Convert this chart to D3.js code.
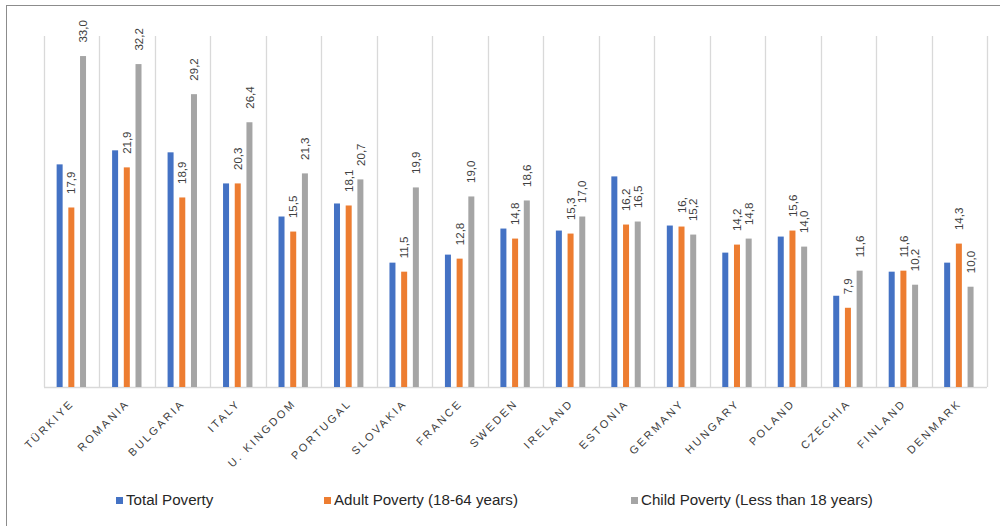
<!DOCTYPE html>
<html>
<head>
<meta charset="utf-8">
<script src="https://cdn.jsdelivr.net/npm/d3@7"></script>
<style>
  html, body { margin: 0; padding: 0; background: #ffffff; }
  svg { display: block; }
</style>
</head>
<body>
<script>
const categories = ["TÜRKIYE","ROMANIA","BULGARIA","ITALY","U. KINGDOM","PORTUGAL","SLOVAKIA","FRANCE","SWEDEN","IRELAND","ESTONIA","GERMANY","HUNGARY","POLAND","CZECHIA","FINLAND","DENMARK"];
const totalPoverty = [22.2,23.6,23.4,20.3,17.0,18.3,12.4,13.2,15.8,15.6,21.0,16.1,13.4,15.0,9.1,11.5,12.4];
const adultPoverty = [17.9,21.9,18.9,20.3,15.5,18.1,11.5,12.8,14.8,15.3,16.2,16.0,14.2,15.6,7.9,11.6,14.3];
const childPoverty = [33.0,32.2,29.2,26.4,21.3,20.7,19.9,19.0,18.6,17.0,16.5,15.2,14.8,14.0,11.6,10.2,10.0];
const seriesNames = ["Total Poverty","Adult Poverty (18-64 years)","Child Poverty (Less than 18 years)"];
const seriesColors = ["#4472C4","#ED7D31","#A5A5A5"];
const labelledSeries = [false, true, true];
// label text shown truncated in the source chart
const labelOverrides = { "GERMANY|1": "16," };

const W = 1000, H = 526;
const svg = d3.select("body").append("svg").attr("width", W).attr("height", H);

// outer frame (right/bottom edges lie outside the picture)
svg.append("rect").attr("x", 6.5).attr("y", 5.5).attr("width", 1000).attr("height", 600)
  .attr("fill", "none").attr("stroke", "#8c8c8c").attr("stroke-width", 1);

const x = d3.scaleBand().domain(categories).range([44, 987]).padding(0);
const y = d3.scaleLinear().domain([0, 35]).range([387, 36]);

const series = [totalPoverty, adultPoverty, childPoverty];
const barW = 6, pitch = 11.7;
const offsetFor = i => x.bandwidth() / 2 - 0.4 + (i - 1) * pitch - barW / 2;

// vertical category grid lines
const bounds = categories.map(c => x(c)).concat([x.range()[1]]);
svg.append("g").selectAll("line").data(bounds).join("line")
  .attr("x1", d => Math.round(d) + 0.5).attr("x2", d => Math.round(d) + 0.5)
  .attr("y1", y(35)).attr("y2", y(0))
  .attr("stroke", "#d9d9d9").attr("stroke-width", 1.3);

// baseline
svg.append("line").attr("x1", x.range()[0]).attr("x2", x.range()[1])
  .attr("y1", y(0) + 0.5).attr("y2", y(0) + 0.5)
  .attr("stroke", "#d9d9d9").attr("stroke-width", 1.5);

const fmt = v => d3.format(".1f")(v).replace(".", ",");

series.forEach((vals, si) => {
  const g = svg.append("g");
  g.selectAll("rect").data(vals).join("rect")
    .attr("x", (d, i) => x(categories[i]) + offsetFor(si))
    .attr("y", d => y(d))
    .attr("width", barW)
    .attr("height", d => y(0) - y(d))
    .attr("fill", seriesColors[si]);
  if (labelledSeries[si]) {
    g.selectAll("text").data(vals).join("text")
      .attr("transform", (d, i) => {
        const cx = x(categories[i]) + offsetFor(si) + barW / 2;
        return `translate(${cx},${y(d) - 13.5}) rotate(-90)`;
      })
      .attr("dy", "0.36em")
      .attr("text-anchor", "start")
      .attr("font-family", "Liberation Sans, Arial, sans-serif")
      .attr("font-size", 11.5)
      .attr("fill", "#404040")
      .text((d, i) => labelOverrides[categories[i] + "|" + si] || fmt(d));
  }
});

// x-axis category labels
const xAxis = d3.axisBottom(x).tickSize(0).tickPadding(0);
const axG = svg.append("g").attr("transform", `translate(0,${y(0)})`).call(xAxis);
axG.select(".domain").remove();
axG.selectAll(".tick text")
  .attr("font-family", "Liberation Sans, Arial, sans-serif")
  .attr("font-size", 11)
  .attr("letter-spacing", "2.4px")
  .attr("fill", "#404040")
  .attr("text-anchor", "end")
  .attr("y", 0).attr("dy", 0)
  .attr("transform", "translate(3,17) rotate(-45)");

// legend
const legendX = [116, 324, 631];
const lg = svg.append("g");
seriesNames.forEach((name, i) => {
  lg.append("rect").attr("x", legendX[i]).attr("y", 497).attr("width", 7).attr("height", 7)
    .attr("fill", seriesColors[i]);
  lg.append("text").attr("x", legendX[i] + 10).attr("y", 505.5)
    .attr("font-family", "Liberation Sans, Arial, sans-serif")
    .attr("font-size", 14)
    .attr("fill", "#262626")
    .attr("transform", `translate(${(legendX[i] + 10) * -0.08},0) scale(1.08,1)`)
    .text(name);
});
</script>
</body>
</html>
